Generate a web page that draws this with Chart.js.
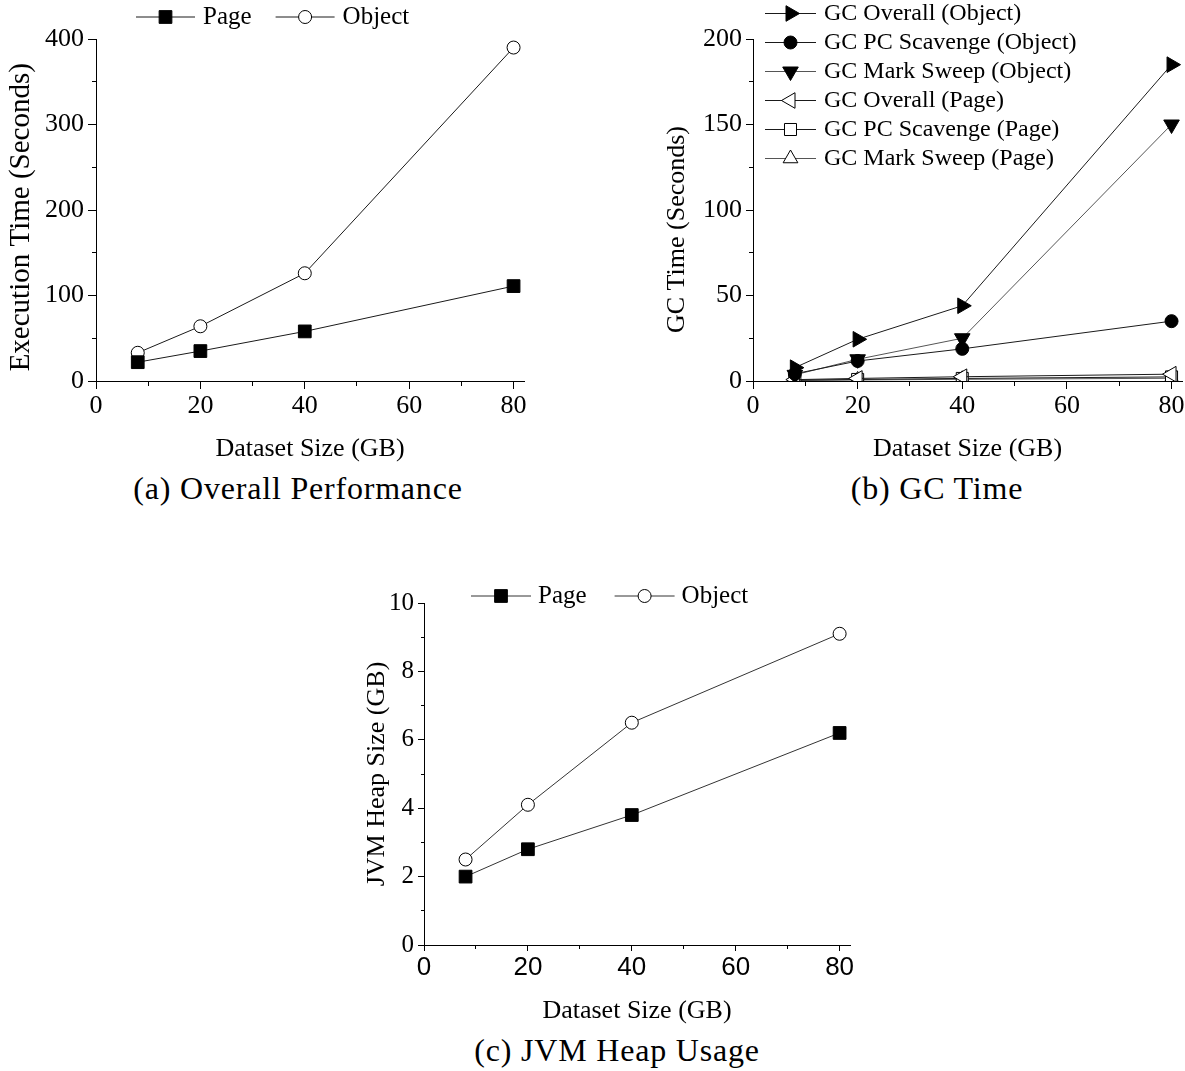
<!DOCTYPE html>
<html>
<head>
<meta charset="utf-8">
<script src="https://cdn.jsdelivr.net/npm/chart.js@4/dist/chart.umd.min.js"></script>
<style>
  html, body { margin: 0; padding: 0; background: #fff; overflow: hidden; }
  body { width: 1185px; height: 1071px; position: relative; }
  canvas { position: absolute; }
  .cap { position: absolute; font-family: "Liberation Serif", serif; font-size: 32px; line-height: 1; letter-spacing: 0.8px; color: #000; white-space: nowrap; transform: translateX(-50%); }
</style>
</head>
<body>
<canvas id="cA" style="left:0px;top:0px;"></canvas>
<canvas id="cB" style="left:640px;top:0px;"></canvas>
<canvas id="cC" style="left:340px;top:570px;"></canvas>
<div class="cap" style="left:298px;top:472px;">(a) Overall Performance</div>
<div class="cap" style="left:937px;top:472px;">(b) GC Time</div>
<div class="cap" style="left:617px;top:1034px;">(c) JVM Heap Usage</div>
<script>
// ---------- data ----------
const datasetSizes = [8, 20, 40, 80];

const execPage   = [22, 35, 58, 111];
const execObject = [33, 64, 126, 390];

const gcOverallObject   = [7.8, 24.4, 44, 185];
const gcScavengeObject  = [4.2, 11.7, 18.8, 35];
const gcMarkSweepObject = [3.6, 12.7, 25, 150];
const gcOverallPage     = [0.8, 1.5, 2.5, 4.0];
const gcScavengePage    = [0.5, 0.9, 1.5, 2.4];
const gcMarkSweepPage   = [0.3, 0.6, 1.0, 1.6];

const heapPage   = [2.0, 2.8, 3.8, 6.2];
const heapObject = [2.5, 4.1, 6.5, 9.1];

const xTickValues  = [0, 10, 20, 30, 40, 50, 60, 70, 80];
const xTickLabels  = [0, 20, 40, 60, 80];
const yTicksExec   = [0, 50, 100, 150, 200, 250, 300, 350, 400];
const yLabelsExec  = [0, 100, 200, 300, 400];
const yTicksGC     = [0, 25, 50, 75, 100, 125, 150, 175, 200];
const yLabelsGC    = [0, 50, 100, 150, 200];
const yTicksHeap   = [0, 1, 2, 3, 4, 5, 6, 7, 8, 9, 10];
const yLabelsHeap  = [0, 2, 4, 6, 8, 10];

// ---------- helpers ----------
const SERIF = '"Liberation Serif", "Times New Roman", serif';
const SANS = '"Liberation Sans", Arial, sans-serif';
Chart.defaults.font.family = SERIF;
Chart.defaults.color = '#000';
Chart.defaults.animation = false;

function pts(vals) { return datasetSizes.map((x, i) => ({ x: x, y: vals[i] })); }

// trailing padding spaces shift a rotated axis title downward
function padTitle(text, n) { return text + '\u00A0'.repeat(n); }

function series(label, vals, style, opts) {
  return Object.assign({
    label: label,
    data: pts(vals),
    borderColor: '#1a1a1a',
    borderWidth: 1,
    pointStyle: style,
    pointRotation: 0,
    pointRadius: 6.5,
    pointHoverRadius: 6.5,
    pointBackgroundColor: '#000',
    pointBorderColor: '#000',
    pointBorderWidth: 1,
    tension: 0,
    fill: false
  }, opts || {});
}

const lineLegend = {
  id: 'lineLegend',
  afterDraw(chart, args, o) {
    const ctx = chart.ctx;
    ctx.save();
    ctx.font = o.fontSize + 'px ' + SERIF;
    ctx.textBaseline = 'middle';
    ctx.textAlign = 'left';
    let x = o.x, y = o.y;
    chart.data.datasets.forEach(ds => {
      const x0 = x, x1 = x + o.lineLength;
      ctx.strokeStyle = ds.borderColor;
      ctx.lineWidth = 1;
      ctx.setLineDash([]);
      ctx.beginPath(); ctx.moveTo(x0, y); ctx.lineTo(x1, y); ctx.stroke();
      ctx.fillStyle = ds.pointBackgroundColor;
      ctx.strokeStyle = ds.pointBorderColor;
      Chart.helpers.drawPoint(ctx, {
        pointStyle: ds.pointStyle, rotation: ds.pointRotation || 0,
        radius: ds.pointRadius, borderWidth: 1
      }, (x0 + x1) / 2, y);
      ctx.fillStyle = '#000';
      ctx.fillText(ds.label, x1 + o.textGap, y);
      if (o.direction === 'row') {
        x = x1 + o.textGap + ctx.measureText(ds.label).width + o.itemGap;
      } else {
        y += o.rowHeight;
      }
    });
    ctx.restore();
  }
};

function xScale(h, tickFont, tl, ml, pad) {
  return {
    type: 'linear', min: 0, max: 82,
    afterBuildTicks: s => { s.ticks = xTickValues.map(v => ({ value: v })); },
    afterFit: s => { s.height = h; },
    ticks: {
      autoSkip: false, maxRotation: 0, padding: pad, color: '#000',
      font: tickFont,
      callback: v => xTickLabels.includes(v) ? String(v) : ''
    },
    grid: {
      drawOnChartArea: false, tickLength: tl, tickColor: '#000', tickWidth: 1,
      tickBorderDash: c => xTickLabels.includes(c.tick.value) ? [] : [ml, 60],
      tickBorderDashOffset: 0
    },
    border: { color: '#000', width: 1 },
    title: { display: true, text: 'Dataset Size (GB)', color: '#000',
      font: { family: SERIF, size: 26 }, padding: { top: 0, bottom: 0 } }
  };
}

function yScale(w, max, tickVals, labelVals, title, titleSize, titlePad, tickFont, tl, ml, pad) {
  return {
    type: 'linear', min: 0, max: max,
    afterBuildTicks: s => { s.ticks = tickVals.map(v => ({ value: v })); },
    afterFit: s => { s.width = w; },
    ticks: {
      autoSkip: false, padding: pad, color: '#000', font: tickFont,
      callback: v => labelVals.includes(v) ? String(v) : ''
    },
    grid: {
      drawOnChartArea: false, tickLength: tl, tickColor: '#000', tickWidth: 1,
      tickBorderDash: c => labelVals.includes(c.tick.value) ? [] : [ml, 60],
      tickBorderDashOffset: c => labelVals.includes(c.tick.value) ? 0 : -(tl - ml)
    },
    border: { color: '#000', width: 1 },
    title: { display: true, text: title, color: '#000',
      font: { family: SERIF, size: titleSize }, padding: { top: titlePad, bottom: 0 } }
  };
}

function makeChart(id, w, h, datasets, scales, padding, legend) {
  const cv = document.getElementById(id);
  cv.width = w; cv.height = h;
  cv.style.width = w + 'px'; cv.style.height = h + 'px';
  return new Chart(cv, {
    type: 'line',
    data: { datasets: datasets },
    options: {
      responsive: false, animation: false,
      layout: { padding: padding },
      plugins: { legend: { display: false }, tooltip: { enabled: false }, lineLegend: legend },
      scales: scales
    },
    plugins: [lineLegend]
  });
}

// ---------- (a) Overall Performance ----------
makeChart('cA', 560, 470, [
    series('Page', execPage, 'rect', { pointRadius: 9 }),
    series('Object', execObject, 'circle', { pointBackgroundColor: '#fff' })
  ], {
    x: xScale(84, { family: SERIF, size: 26 }, 8, 4, 2),
    y: yScale(96, 400, yTicksExec, yLabelsExec, padTitle('Execution Time (Seconds)', 2), 29, 4,
              { family: SERIF, size: 26 }, 8, 4, 4)
  },
  { left: 0, top: 39, right: 36, bottom: 5 },
  { direction: 'row', x: 136, y: 17, lineLength: 59, textGap: 8, itemGap: 24, fontSize: 25 });

// ---------- (b) GC Time ----------
const gray = '#555';
makeChart('cB', 560, 470, [
    series('GC Overall (Object)', gcOverallObject, 'triangle', { pointRotation: 90, pointRadius: 9 }),
    series('GC PC Scavenge (Object)', gcScavengeObject, 'circle', {}),
    series('GC Mark Sweep (Object)', gcMarkSweepObject, 'triangle', { pointRotation: 180, pointRadius: 9, borderColor: gray }),
    series('GC Overall (Page)', gcOverallPage, 'triangle', { pointRotation: -90, pointRadius: 9, pointBackgroundColor: '#fff' }),
    series('GC PC Scavenge (Page)', gcScavengePage, 'rect', { pointRadius: 8.5, pointBackgroundColor: '#fff' }),
    series('GC Mark Sweep (Page)', gcMarkSweepPage, 'triangle', { pointRadius: 8.5, pointBackgroundColor: '#fff', borderColor: gray })
  ], {
    x: xScale(84, { family: SERIF, size: 26 }, 8, 4, 2),
    y: yScale(113, 200, yTicksGC, yLabelsGC, padTitle('GC Time (Seconds)', 6), 26, 22, { family: SERIF, size: 26 }, 7, 4, 4)
  },
  { left: 0, top: 39, right: 18, bottom: 5 },
  { direction: 'column', x: 125, y: 13.5, lineLength: 51, textGap: 8, rowHeight: 29, fontSize: 24 });

// ---------- (c) JVM Heap Usage ----------
makeChart('cC', 540, 460, [
    series('Page', heapPage, 'rect', { pointRadius: 9, borderColor: '#333' }),
    series('Object', heapObject, 'circle', { pointBackgroundColor: '#fff', borderColor: '#333' })
  ], {
    x: xScale(82, { family: SANS, size: 26 }, 6, 3, 1),
    y: yScale(84, 10, yTicksHeap, yLabelsHeap, 'JVM Heap Size (GB)', 26, 22, { family: SERIF, size: 25 }, 6, 3, 4)
  },
  { left: 0, top: 33, right: 30, bottom: 3 },
  { direction: 'row', x: 131, y: 26, lineLength: 60, textGap: 7, itemGap: 28, fontSize: 25 });
</script>
</body>
</html>
